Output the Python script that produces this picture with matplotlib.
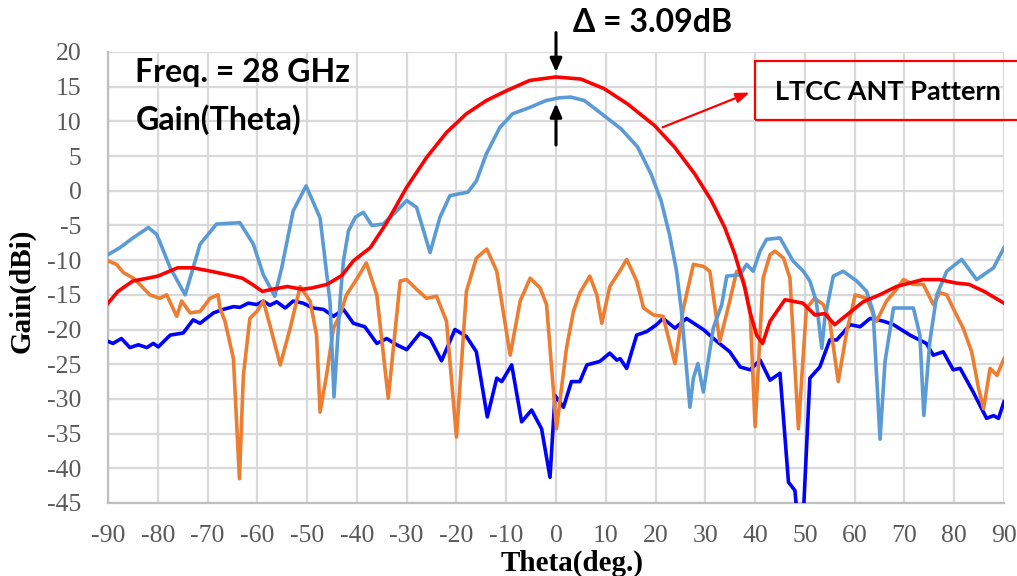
import matplotlib.pyplot as plt
from matplotlib.patches import Rectangle

plt.rcParams['axes.unicode_minus'] = False

# LTCC antenna simulated pattern (red)
red_theta = [-90, -88, -85, -82, -80, -76, -73, -70, -66, -63, -61, -59, -57, -54, -51, -49, -46, -43,
             -40.7, -37.3, -34, -30, -26, -22, -18, -14, -10, -5.3, 0, 5, 9.7, 14.4, 19.8, 23.8, 27.9,
             31.2, 33.9, 35.9, 37.9, 38.9, 40.3, 41.5, 43, 46, 49.6, 52, 54, 56, 58.4, 61.7, 65, 68.4,
             73.7, 77, 80.4, 83, 86, 90]
red_gain = [-16.2, -14.5, -13, -12.6, -12.3, -11.1, -11.1, -11.5, -12.1, -12.6, -13.5, -14.5, -14.2, -13.8,
            -14.2, -14, -13.5, -12.2, -10.1, -8.2, -4.6, 0.5, 4.8, 8.4, 11.1, 13, 14.4, 15.9, 16.4, 16.1,
            14.7, 12.5, 9.4, 6.3, 2.4, -1.4, -5.3, -9.1, -13.9, -17.3, -20.8, -22, -18.8, -15.7, -16.2,
            -17.9, -17.7, -19.3, -17.9, -16, -15, -13.8, -12.8, -12.8, -13.3, -13.5, -14.5, -16.2]

# measured co-pol (light blue)
lb_theta = [-90, -87.6, -85, -81.9, -80.2, -77.5, -74.5, -71.5, -68.2, -63.5, -60.8, -58.8, -56.5, -55.1,
            -52.8, -50.2, -47.4, -45.4, -44.6, -43.3, -42.7, -41.7, -40.3, -38.7, -37, -34.7, -32, -30,
            -28, -25.3, -23.3, -21.3, -17.7, -16, -14, -11.3, -8.7, -5.3, -2, 0.7, 3, 5.7, 9.7, 13.1,
            16.4, 19.1, 21.1, 22.8, 24.2, 25.2, 26.9, 27.6, 28.5, 29.6, 31.6, 33.3, 34.3, 37, 38.3, 39.6,
            41, 42.3, 45, 47.6, 49.7, 51, 52.3, 53.4, 54, 55.7, 57.7, 60.4, 62.4, 63.7, 65.1, 66.1, 67.8,
            69.8, 71.8, 73.1, 73.9, 75.1, 76.5, 78.5, 81.5, 84.5, 87.9, 90]
lb_gain = [-9.2, -8.2, -6.8, -5.3, -6.3, -11.1, -15, -7.7, -4.8, -4.6, -7.7, -12.1, -15.2, -11.1, -2.9,
           0.7, -3.9, -16, -29.7, -15, -10.1, -5.8, -3.8, -3.1, -5, -4.8, -2.9, -1.4, -2.4, -8.9, -3.8,
           -0.7, -0.2, 1.4, 5.3, 9.1, 11.1, 12, 13, 13.4, 13.5, 13, 10.8, 8.9, 6.3, 2.4, -1.4, -6.3,
           -11.5, -17.3, -31.2, -27, -24.9, -29, -19.8, -16.4, -12.3, -12.1, -10.6, -11.6, -8.7, -7,
           -6.8, -10.1, -11.6, -13, -16, -22.7, -18.4, -12.3, -11.6, -13, -14.5, -17.4, -35.8, -24.6,
           -16.9, -16.9, -16.9, -20.8, -32.4, -21.7, -15, -11.6, -9.9, -12.8, -11.1, -8.2]

# measured cross-pol (dark blue)
db_theta = [-90, -89, -87.3, -85.6, -83.9, -82.2, -80.9, -79.9, -77.5, -74.9, -72.9, -71.5, -68.8, -66.9,
            -64.8, -63.5, -61.8, -60.1, -58.8, -57.5, -56.1, -54.4, -52.8, -50.8, -48.8, -46.7, -44.7,
            -42.7, -40.7, -38.4, -36, -34, -32, -30, -27.3, -25.3, -23, -20.3, -18, -16, -13.8, -11.9,
            -10.9, -8.9, -6.9, -4.9, -2.9, -1.2, -0.2, 1.5, 3.1, 4.8, 6.2, 8.8, 10.8, 12.2, 12.9, 14.2,
            16.2, 18.2, 20.2, 21.5, 23.9, 26.2, 29.6, 32.3, 34.9, 37, 39, 41, 43, 45, 46.7, 48, 48.6,
            49.6, 51, 53, 55, 56.4, 59.1, 61.1, 63.1, 65.8, 67.8, 71.1, 74.4, 75.8, 77.8, 79.8, 81.2,
            83.8, 86.5, 87.9, 88.9, 90]
db_gain = [-21.7, -22, -21.3, -22.6, -22.2, -22.6, -22, -22.5, -20.8, -20.5, -18.6, -19.1, -17.6, -17.1,
           -16.7, -16.8, -16.2, -16.4, -15.9, -16.5, -16, -16.9, -15.9, -16.2, -16.9, -17.1, -18.1, -17.1,
           -19.1, -19.6, -22, -21.3, -22.2, -22.9, -20.5, -21.3, -24.5, -20, -21, -23.2, -32.6, -27,
           -27.5, -25.1, -33.3, -31.6, -34.3, -41.3, -29.5, -31.2, -27.5, -27.5, -25.1, -24.6, -23.4,
           -24.4, -24.2, -25.6, -20.8, -20.3, -19.3, -18.4, -19.8, -18.4, -20, -21.7, -23.2, -25.4, -25.8,
           -24.4, -27.3, -26.3, -42, -43.2, -48, -48, -27, -25.4, -21.5, -21.5, -19.3, -19.6, -18.4,
           -18.8, -19.3, -20.8, -22, -23.7, -23.2, -25.8, -25.6, -29, -32.8, -32.4, -32.8, -30.4]

# simulated cross-pol (orange)
or_theta = [-90, -88.3, -86.9, -84.9, -83.6, -81.6, -79.6, -78.2, -76.2, -75.2, -73.5, -71.5, -69.5,
            -67.9, -67.5, -66.5, -64.8, -63.6, -62.8, -61.5, -60.1, -58.8, -57.5, -55.4, -53.4, -51.4,
            -49.4, -48.1, -47.4, -46.1, -44.7, -43.4, -42.1, -40.1, -38.1, -36, -33.7, -31.3, -30, -28,
            -26, -24, -22, -20, -18, -16, -13.9, -11.9, -9.2, -7.2, -5.2, -3.2, -1.9, 0.1, 2.1, 3.5, 4.8,
            6.8, 8.2, 9.2, 10.8, 12.8, 14.2, 16.2, 17.6, 19.6, 21.5, 23.9, 25.6, 27.6, 29.6, 30.9, 32.9,
            34.9, 36.3, 37.6, 39, 40, 41.6, 43, 44, 45.7, 47, 48.7, 50.3, 52, 53.7, 55, 56.7, 58.4, 60.1,
            62.4, 64.4, 66.4, 68.4, 69.8, 71.8, 73.8, 75.8, 77.1, 78.5, 80.1, 81.8, 83.5, 84.9, 85.9,
            87.2, 88.6, 90]
or_gain = [-10.1, -10.6, -11.8, -12.6, -13.5, -15, -15.5, -15, -18.1, -15.9, -17.6, -17.4, -15.5, -15,
           -16.9, -18.8, -24.2, -41.5, -26.6, -18.4, -17.4, -15.9, -19.3, -25.1, -19.8, -13.8, -15.9,
           -20.8, -31.9, -26.6, -19.8, -17.9, -15, -12.8, -10.4, -15, -29.9, -13, -12.8, -14.2, -15.5,
           -15.2, -18.8, -35.5, -14.5, -9.7, -8.4, -11.6, -23.7, -15.9, -12.6, -14, -16.4, -34.3, -22.7,
           -17.4, -14.7, -12.3, -15, -19.1, -13.8, -11.6, -9.9, -13, -16.9, -17.9, -18.1, -24.9, -16.9,
           -10.6, -10.9, -11.6, -21.7, -15.9, -11.6, -12.8, -17.4, -34, -12.6, -9.2, -8.7, -9.7, -12.6,
           -34.3, -16.9, -15.5, -16.4, -18.8, -27.5, -20.3, -15, -15.5, -18.8, -15.9, -14.2, -12.8, -13.5,
           -13.5, -16.4, -14.7, -15, -17.4, -19.8, -23.2, -28.5, -31.4, -25.6, -26.6, -24.2]

x_ticks = list(range(-90, 91, 10))
y_ticks = list(range(-45, 21, 5))

fig = plt.figure(figsize=(10.17, 5.76), dpi=100)
ax = fig.add_axes([108 / 1017, 1 - 503 / 576, 896 / 1017, 451 / 576])

lw = 2.6
ax.plot(db_theta, db_gain, color='#0000FF', lw=lw, zorder=3)
ax.plot(or_theta, or_gain, color='#ED7D31', lw=lw, zorder=3)
ax.plot(lb_theta, lb_gain, color='#5B9BD5', lw=lw, zorder=4)
ax.plot(red_theta, red_gain, color='#FF0000', lw=lw, zorder=5)

ax.set_xlim(-90, 90)
ax.set_ylim(-45, 20)
ax.set_xticks(x_ticks)
ax.set_yticks(y_ticks)
ax.set_xticklabels([str(v) for v in x_ticks], family='Liberation Serif', fontsize=18.5, color='#595959')
ax.set_yticklabels([str(v) for v in y_ticks], family='Liberation Serif', fontsize=18.5, color='#595959')
ax.grid(True, color='#D9D9D9', lw=1.6)
ax.set_axisbelow(True)
for s in ax.spines.values():
    s.set_visible(False)
for side in ['left', 'bottom']:
    ax.spines[side].set_visible(True)
    ax.spines[side].set_color('#BFBFBF')
    ax.spines[side].set_linewidth(1.6)
ax.tick_params(length=0)
ax.tick_params(axis='y', pad=19)
ax.tick_params(axis='x', pad=16)

fig.text(572 / 1017, 1 - 563 / 576, 'Theta(deg.)', family='Liberation Serif', fontweight='bold',
         fontsize=21, ha='center', va='center')
fig.text(22 / 1017, 1 - 291 / 576, 'Gain(dBi)', family='Liberation Serif', fontweight='bold',
         fontsize=21, ha='center', va='center', rotation=90)

ax.text(-84.5, 17.0, 'Freq. = 28 GHz', family='Lato', fontweight='bold', fontsize=23, va='center')
ax.text(-84.5, 10.3, 'Gain(Theta)', family='Lato', fontweight='bold', fontsize=23, va='center')

# delta annotation between the two peaks
fig.text(573 / 1017, 1 - 22 / 576, '\u0394 = 3.09dB', family='Lato', fontweight='bold', fontsize=23,
         va='center', ha='left')
ax.annotate('', xy=(0, 16.7), xytext=(0, 23.2), annotation_clip=False,
            arrowprops=dict(arrowstyle='-|>,head_length=0.8,head_width=0.35', color='black', lw=2.2))
ax.annotate('', xy=(0, 13.0), xytext=(0, 6.2), annotation_clip=False,
            arrowprops=dict(arrowstyle='-|>,head_length=0.8,head_width=0.35', color='black', lw=2.2))

# label box for the simulated pattern
box = Rectangle((755 / 1017, 1 - 120 / 576), 300 / 1017, 59 / 576, transform=fig.transFigure,
                fill=False, edgecolor='#FF0000', lw=1.6, clip_on=False)
fig.add_artist(box)
fig.text(775 / 1017, 1 - 92 / 576, 'LTCC ANT Pattern', family='Lato', fontweight='bold', fontsize=19.5,
         va='center', ha='left')
ax.annotate('', xy=(39.4, 14.3), xytext=(20.9, 9.0), annotation_clip=False,
            arrowprops=dict(arrowstyle='-|>,head_length=0.8,head_width=0.3', color='#FF0000', lw=1.6))

fig.savefig('out.png', dpi=100)
